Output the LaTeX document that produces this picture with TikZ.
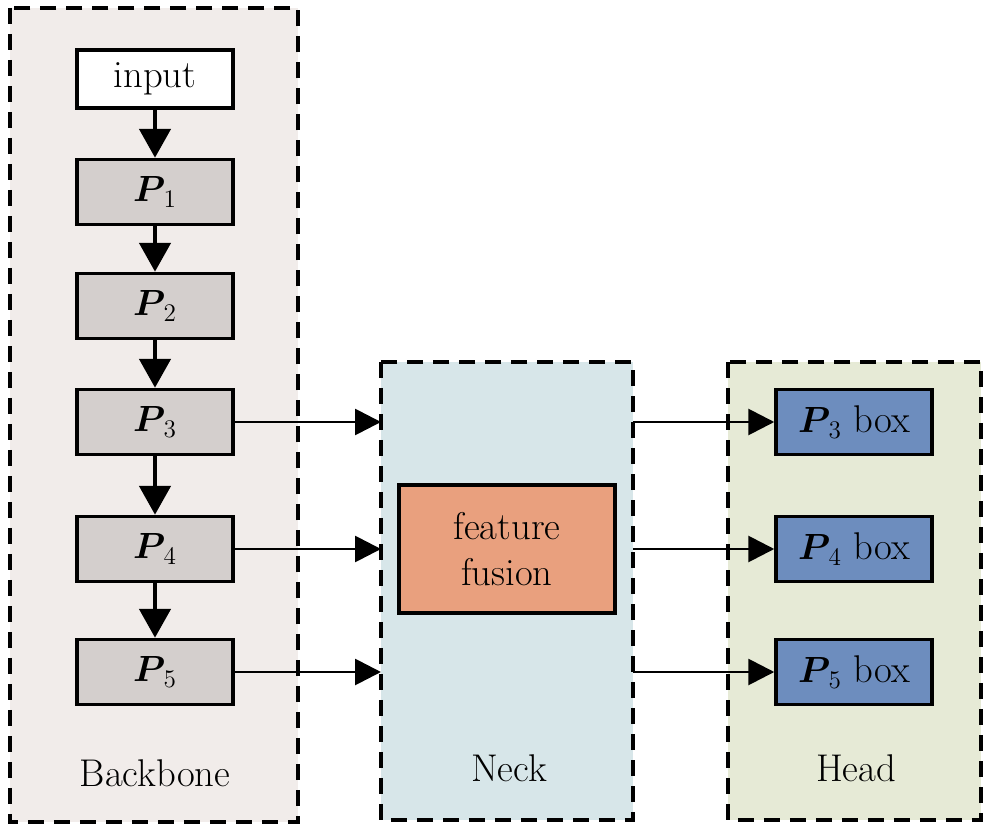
\documentclass[tikz,border=0pt]{standalone}
\usepackage{bm}
\usetikzlibrary{arrows.meta}

\definecolor{bbfill}{RGB}{241,236,234}
\definecolor{nkfill}{RGB}{215,230,233}
\definecolor{hdfill}{RGB}{230,234,214}
\definecolor{pfill}{RGB}{212,207,205}
\definecolor{fusefill}{RGB}{233,160,126}
\definecolor{boxfill}{RGB}{109,141,190}

\tikzset{
    panel/.style={draw, line width=2.2pt, dash pattern=on 0.32cm off 0.2cm},
    blk/.style={draw, line width=2pt, minimum width=3.12cm, minimum height=1.3cm, inner sep=0pt},
    down/.style={line width=2.8pt, -{Triangle[length=0.58cm,width=0.62cm]}},
    side/.style={line width=1.6pt, -{Triangle[length=0.52cm,width=0.52cm]}}
}

\begin{document}
\begin{tikzpicture}[x=0.02cm, y=-0.02cm, font=\fontsize{22}{26}\selectfont]
        \useasboundingbox (0,0) rectangle (1000,834);

        \fill[bbfill] (10,8) rectangle (298,822);
        \fill[nkfill] (381,362) rectangle (633,820);
        \fill[hdfill] (728,362) rectangle (981,820);
        \draw[panel] (10,8) rectangle (298,822);
        \draw[panel] (381,362) rectangle (633,820);
        \draw[panel] (728,362) rectangle (981,820);

        \node[blk, fill=white, minimum height=1.16cm] (input) at (155,79) {input};
        \node[blk, fill=pfill] (p1) at (155,192) {$\bm{P}_{\,1}$};
        \node[blk, fill=pfill] (p2) at (155,306) {$\bm{P}_{\,2}$};
        \node[blk, fill=pfill] (p3) at (155,422) {$\bm{P}_{\,3}$};
        \node[blk, fill=pfill] (p4) at (155,549) {$\bm{P}_{\,4}$};
        \node[blk, fill=pfill] (p5) at (155,672) {$\bm{P}_{\,5}$};

        \node[blk, fill=fusefill, minimum width=4.32cm, minimum height=2.56cm, align=center] (fuse) at (507,549) {feature\\fusion};

        \node[blk, fill=boxfill] (b3) at (854,422) {$\bm{P}_{\,3}$ box};
        \node[blk, fill=boxfill] (b4) at (854,549) {$\bm{P}_{\,4}$ box};
        \node[blk, fill=boxfill] (b5) at (854,672) {$\bm{P}_{\,5}$ box};

        \coordinate (n3) at (381,422);
        \coordinate (n4) at (381,549);
        \coordinate (n5) at (381,672);
        \coordinate (m3) at (633,422);
        \coordinate (m4) at (633,549);
        \coordinate (m5) at (633,672);

        \draw[down] (input) -- (p1);
        \draw[down] (p1) -- (p2);
        \draw[down] (p2) -- (p3);
        \draw[down] (p3) -- (p4);
        \draw[down] (p4) -- (p5);

        \draw[side] (p3) -- (n3);
        \draw[side] (p4) -- (n4);
        \draw[side] (p5) -- (n5);
        \draw[side] (m3) -- (b3);
        \draw[side] (m4) -- (b4);
        \draw[side] (m5) -- (b5);

        \node (bbname) at (155,773) {Backbone};
        \node (nkname) at (509,768) {Neck};
        \node (hdname) at (856,768) {Head};
    \end{tikzpicture}
\end{document}
